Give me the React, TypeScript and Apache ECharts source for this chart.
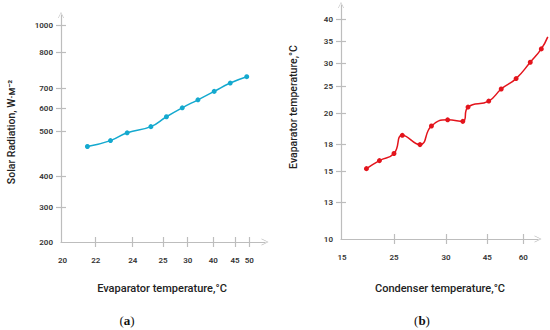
import React, { useEffect, useRef } from "react";
import * as echarts from "echarts";

// ---- data ----
const evapTempA = [21.5, 22.8, 23.7, 24.6, 25.7, 28.9, 34.0, 40.2, 43.9, 49.1];
const solarRadA = [466, 479, 496, 519, 562, 601, 641, 683, 714, 732];

const condTempB = [19.7, 22.2, 25.0, 25.8, 27.5, 28.6, 30.6, 36.1, 38.0, 45.6, 50.8, 57.0, 62.9, 67.5, 70.2];
const evapTempB = [15.3, 16.2, 17.0, 18.6, 18.0, 19.2, 19.6, 19.5, 21.2, 22.3, 24.5, 26.7, 30.3, 33.3, 36.0];

// tick labels
const xTicksA = [20, 22, 24, 25, 30, 40, 45, 50];
const yTicksA = [200, 300, 400, 500, 600, 700, 800, 1000];
const xTicksB = [15, 25, 30, 45, 60];
const yTicksB = [10, 13, 15, 18, 20, 25, 30, 35, 40];

// ---- layout: where each (non-uniform) tick sits along its axis, in px ----
const LAYOUT = {
  xPosA: [1.5, 34.7, 71.7, 102, 126.7, 152.3, 174, 188.3],
  yPosA: [0, 34.6, 65.3, 111, 134, 154, 189.3, 216.6],
  xPosB: [1, 53, 105, 146.3, 182.3],
  yPosB: [0, 36.7, 67.7, 94.4, 125.4, 152.7, 175.4, 197.7, 219.7],
};

function mapTo(v: number, vals: number[], pos: number[]) {
  let i = 0;
  while (i < vals.length - 2 && v > vals[i + 1]) i++;
  const t = (v - vals[i]) / (vals[i + 1] - vals[i]);
  return pos[i] + t * (pos[i + 1] - pos[i]);
}

function labelFor(val: number, ticks: number[], pos: number[]) {
  for (let i = 0; i < pos.length; i++) if (Math.abs(pos[i] - val) < 0.01) return String(ticks[i]);
  return "";
}

const AXIS_COLOR = "#bdbdbd";
const ARROW = "path://M0,10 L5,0 L10,10 L9,10 L5,1.8 L1,10 Z";
const LABEL_STYLE = { color: "#333", fontSize: 8, fontWeight: 600, fontFamily: "Roboto" };

function axesPair(kind: "x" | "y", gridIndex: number, max: number, ticks: number[], pos: number[]) {
  const tickVals = pos.slice(1);
  const main: any = {
    type: "value",
    gridIndex,
    min: 0,
    max,
    position: kind === "x" ? "bottom" : "left",
    axisLine: {
      show: true,
      lineStyle: { color: AXIS_COLOR, width: 1.2 },
      symbol: ["none", ARROW],
      symbolSize: kind === "x" ? [10, 7] : [8, 6],
    },
    axisTick: { show: true, length: 5, customValues: tickVals, lineStyle: { color: AXIS_COLOR, width: 1.2 } },
    axisLabel: {
      show: true,
      customValues: pos,
      margin: kind === "x" ? 14 : 8,
      formatter: (v: number) => labelFor(v, ticks, pos),
      ...LABEL_STYLE,
    },
    splitLine: { show: false },
  };
  const sec: any = {
    type: "value",
    gridIndex,
    min: 0,
    max,
    position: kind === "x" ? "bottom" : "left",
    axisLine: { show: false },
    axisTick: { show: true, inside: true, length: 5, customValues: tickVals, lineStyle: { color: AXIS_COLOR, width: 1.2 } },
    axisLabel: { show: false },
    splitLine: { show: false },
  };
  return [main, sec];
}

function hiddenAxis(gridIndex: number, max: number) {
  return { type: "value", gridIndex, min: 0, max, show: false, splitLine: { show: false } };
}

export default function App() {
  const ref = useRef<HTMLDivElement>(null);
  useEffect(() => {
    if (!ref.current) return;
    const chart = echarts.init(ref.current, undefined, { renderer: "svg" });

    const dataA = evapTempA.map((x, i) => [
      mapTo(x, xTicksA, LAYOUT.xPosA),
      mapTo(solarRadA[i], yTicksA, LAYOUT.yPosA),
    ]);
    const dataB = condTempB.map((x, i) => [
      mapTo(x, xTicksB, LAYOUT.xPosB),
      mapTo(evapTempB[i], yTicksB, LAYOUT.yPosB),
    ]);
    const lastB = dataB.length - 1;

    const [xa, xa2] = axesPair("x", 0, 204, xTicksA, LAYOUT.xPosA);
    const [ya, ya2] = axesPair("y", 0, 227, yTicksA, LAYOUT.yPosA);
    const [xb, xb2] = axesPair("x", 1, 197, xTicksB, LAYOUT.xPosB);
    const [yb, yb2] = axesPair("y", 1, 234, yTicksB, LAYOUT.yPosB);
    // plotting layer for (b): same pixel scale, wider so the curve runs to the page edge
    const xbPlot = hiddenAxis(2, 209);
    const ybPlot = hiddenAxis(2, 234);

    const xTitleStyle = { fill: "#222", fontSize: 11, fontFamily: "Roboto", fontWeight: 500 };
    const yTitleStyle = { fill: "#222", fontSize: 10.5, fontFamily: "Roboto", fontWeight: 500 };
    const capStyle = { fontFamily: "Liberation Serif", fontSize: 13, fill: "#111" };

    chart.setOption({
      animation: false,
      backgroundColor: "#fff",
      grid: [
        { left: 61, top: 15, width: 204, height: 227, containLabel: false },
        { left: 341, top: 5, width: 197, height: 234, containLabel: false },
        { left: 341, top: 5, width: 209, height: 234, containLabel: false },
      ],
      xAxis: [xa, xa2, xb, xb2, xbPlot],
      yAxis: [ya, ya2, yb, yb2, ybPlot],
      series: [
        {
          type: "line",
          xAxisIndex: 0,
          yAxisIndex: 0,
          data: dataA,
          smooth: 0.5,
          symbol: "circle",
          symbolSize: 5,
          lineStyle: { color: "#14a9cf", width: 1.5 },
          itemStyle: { color: "#14a9cf" },
        },
        {
          type: "line",
          xAxisIndex: 4,
          yAxisIndex: 4,
          data: dataB,
          smooth: 0.5,
          clip: false,
          showAllSymbol: true,
          symbol: "circle",
          symbolSize: (_v: any, p: any) => (p.dataIndex === lastB ? 0 : 5),
          lineStyle: { color: "#e3141c", width: 1.5 },
          itemStyle: { color: "#e3141c" },
        },
      ],
      graphic: [
        { type: "text", x: 162, y: 288, style: { text: "Evaparator temperature,°C", align: "center", verticalAlign: "middle", ...xTitleStyle } },
        { type: "text", x: 11, y: 132, rotation: Math.PI / 2, style: { text: "Solar Radiation, W·м⁻²", align: "center", verticalAlign: "middle", ...yTitleStyle } },
        { type: "text", x: 440, y: 288, style: { text: "Condenser temperature,°C", align: "center", verticalAlign: "middle", ...xTitleStyle } },
        { type: "text", x: 293, y: 107, rotation: Math.PI / 2, style: { text: "Evaparator temperature,°C", align: "center", verticalAlign: "middle", ...yTitleStyle } },
        {
          type: "text", x: 127, y: 320,
          style: { text: "({b|a})", align: "center", verticalAlign: "middle", ...capStyle, rich: { b: { fontWeight: "bold", fontFamily: "Liberation Serif", fontSize: 13, fill: "#111" } } },
        },
        {
          type: "text", x: 422, y: 320,
          style: { text: "({b|b})", align: "center", verticalAlign: "middle", ...capStyle, rich: { b: { fontWeight: "bold", fontFamily: "Liberation Serif", fontSize: 13, fill: "#111" } } },
        },
      ],
    });
    return () => chart.dispose();
  }, []);
  return <div ref={ref} style={{ position: "absolute", left: 0, top: 0, width: 550, height: 330 }} />;
}
